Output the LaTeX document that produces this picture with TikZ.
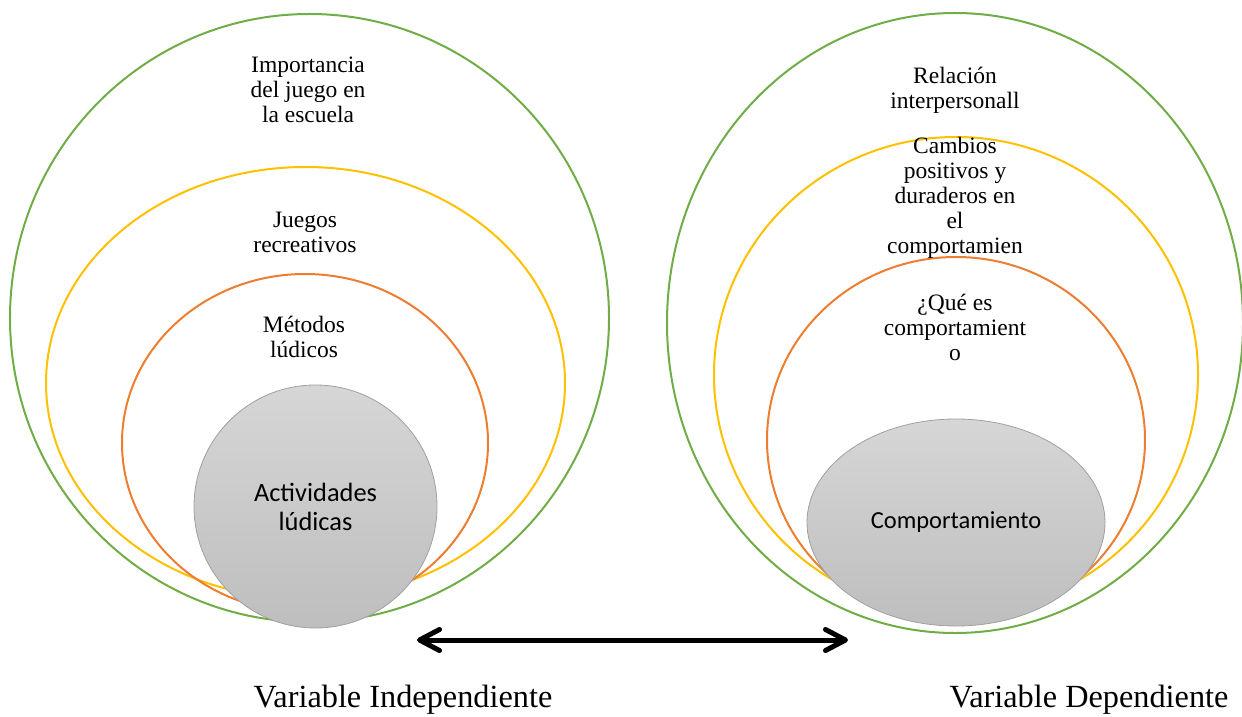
\documentclass[tikz,border=0pt]{standalone}
\usepackage{fontspec}
\setmainfont{Liberation Serif}
\newfontfamily\calib{Carlito}
\usetikzlibrary{shapes.geometric,arrows.meta}
\definecolor{ogreen}{RGB}{112,173,71}
\definecolor{oyellow}{RGB}{255,192,0}
\definecolor{oorange}{RGB}{237,125,49}
\definecolor{gtop}{RGB}{214,214,214}
\definecolor{gbot}{RGB}{190,190,190}
\definecolor{gedge}{RGB}{160,160,160}
\tikzset{
  ring/.style={line width=2bp},
  greenring/.style={ring, draw=ogreen},
  yellowring/.style={ring, draw=oyellow},
  orangering/.style={ring, draw=oorange},
  core/.style={ellipse, draw=gedge, line width=0.8bp, top color=gtop, bottom color=gbot, inner sep=0pt, align=center},
  corefont/.style={font=\calib\fontsize{24.5bp}{30bp}\selectfont},
  corefontbig/.style={font=\calib\fontsize{26.4bp}{29bp}\selectfont},
  lbl/.style={inner sep=0pt, align=center, font=\rmfamily\fontsize{23.5bp}{25bp}\selectfont},
  varlbl/.style={inner sep=0pt, font=\rmfamily\fontsize{32.3bp}{35bp}\selectfont},
  barb/.tip={Straight Barb[length=20bp,width=21bp,line cap=round,line join=round]},
  biarrow/.style={line width=5bp, barb-barb}
}
\begin{document}
\begin{tikzpicture}[x=1bp,y=-1bp]
\useasboundingbox (0,0) rectangle (1242,717);
% left group
\draw[greenring] (309.5,318) ellipse [x radius=299.5bp, y radius=304bp];
\draw[yellowring] (305.5,383) ellipse [x radius=259.5bp, y radius=216bp];
\draw[orangering] (305,443) ellipse [x radius=183bp, y radius=169bp];
\node[core, corefontbig, minimum width=243bp, minimum height=243bp] (act) at (315.5,506.5) {Actividades\\lúdicas};
\node[lbl] (imp) at (308,90) {Importancia\\del juego en\\la escuela};
\node[lbl] (jue) at (305,232) {Juegos\\recreativos};
\node[lbl] (met) at (304,337) {Métodos\\lúdicos};
% right group
\draw[greenring] (955,323) ellipse [x radius=288bp, y radius=310bp];
\draw[yellowring] (956,375) ellipse [x radius=242bp, y radius=238bp];
\draw[orangering] (956,440) ellipse [x radius=189bp, y radius=183bp];
\node[core, corefont, minimum width=298bp, minimum height=207bp] (comp) at (956,522.5) {Comportamiento};
\node[lbl] (rel) at (955,90) {Relación\\interpersonall};
\node[lbl] (cam) at (955,198) {Cambios\\positivos y\\duraderos en\\el\\comportamien};
\node[lbl] (que) at (955,327) {¿Qué es\\comportamient\\o};
% arrow
\coordinate (aL) at (417,640);
\coordinate (aR) at (848,640);
\draw[biarrow] (aL) -- (aR);
% variable labels
\node[varlbl] (vi) at (403,700) {Variable Independiente};
\node[varlbl] (vd) at (1089,700) {Variable Dependiente};
\end{tikzpicture}
\end{document}
